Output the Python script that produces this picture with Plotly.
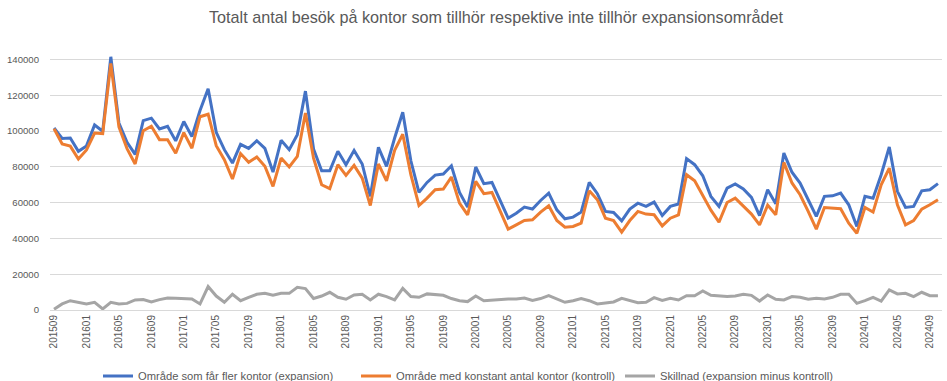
import plotly.graph_objects as go

months = [f"{y}{m:02d}" for y in range(2015, 2025) for m in range(1, 13)]
months = [m for m in months if "201509" <= m <= "202410"]

expansion = [101700, 95900, 96100, 88700, 91700, 103400, 99900, 141500, 104500, 93700,
             87000, 105800, 107200, 101200, 102700, 94500, 105300, 96900, 111500, 123600,
             99300, 89600, 82100, 92600, 90300, 94600, 90300, 77100, 94800, 89600,
             98000, 122300, 90000, 77800, 77800, 88700, 81200, 89200, 81600, 63500,
             90900, 80300, 96100, 110500, 83400, 65700, 71300, 75400, 76000, 80600,
             65700, 57500, 79900, 70600, 71300, 61200, 51300, 54100, 57500, 56400,
             61200, 65300, 56000, 51000, 51900, 54700, 71300, 65000, 55100, 54500,
             49800, 56400, 59700, 57900, 60300, 52800, 57900, 59200, 84600, 81200,
             75000, 63500, 57900, 68100, 70400, 67600, 62900, 52800, 67200, 59400,
             87700, 77000, 70900, 61600, 52300, 63500, 63800, 65300, 58800, 46700,
             63500, 62500, 75600, 91100, 66300, 57300, 57900, 66600, 67200, 70600]

kontroll = [101300, 92800, 91600, 84400, 89400, 98900, 98600, 137800, 102300, 90200,
            81600, 100200, 102700, 95200, 95200, 87600, 99100, 90400, 108000, 109400,
            91800, 84000, 73200, 87400, 82500, 85500, 80300, 69100, 84900, 79900,
            85900, 110100, 84900, 70000, 67800, 81200, 75200, 80800, 73700, 58400,
            81600, 72200, 89200, 98200, 75600, 58400, 62500, 67200, 67600, 74300,
            59700, 53200, 71900, 65000, 65700, 55600, 45200, 47600, 50000, 50400,
            54700, 58200, 50000, 46300, 46700, 48500, 66600, 61600, 51300, 50000,
            43500, 50000, 55100, 53600, 53200, 47000, 51300, 53200, 75600, 72200,
            64400, 55800, 49100, 60100, 62500, 57900, 53600, 47600, 58600, 53200,
            82500, 71000, 64400, 55100, 45200, 57300, 56800, 56600, 48500, 42900,
            57300, 54700, 70000, 79300, 58800, 47600, 50000, 56400, 58800, 61600]

skillnad = [400, 3400, 5200, 4500, 3400, 4300, 600, 4300, 3400, 3700,
            5600, 5800, 4500, 5800, 6700, 6500, 6200, 6200, 3400, 13100,
            7800, 4300, 8800, 5200, 7100, 8800, 9300, 8200, 9300, 9300,
            12700, 12000, 6400, 7800, 9900, 7100, 6000, 8400, 8800, 5600,
            8800, 7500, 5600, 12100, 7500, 7100, 9000, 8400, 8200, 6400,
            5200, 4700, 7800, 5200, 5600, 6200, 6200, 6200, 6700, 5400,
            6400, 8000, 6000, 4300, 5200, 6400, 5200, 3400, 3900, 4500,
            6500, 5200, 4100, 4300, 6900, 5400, 6500, 5600, 8000, 8000,
            10600, 8200, 8000, 7500, 7800, 8800, 8200, 5000, 8400, 6000,
            5600, 7500, 7100, 6000, 6500, 6200, 7100, 8800, 8800, 3700,
            5200, 7100, 5000, 11200, 9000, 9300, 7500, 9900, 8000, 8000]

names = ["Område som får fler kontor (expansion)",
         "Område med konstant antal kontor (kontroll)",
         "Skillnad (expansion minus kontroll)"]
colors = ["#4472C4", "#ED7D31", "#A5A5A5"]
tick_labels = months[::4]
title = "Totalt antal besök på kontor som tillhör respektive inte tillhör expansionsområdet"

FONT = "Liberation Sans"
TXT = "#595959"

fig = go.Figure()
legends = ["legend2", "legend3", "legend4"]
for series, name, color, lg in zip([expansion, kontroll, skillnad], names, colors, legends):
    fig.add_trace(go.Scatter(x=months, y=series, mode="lines", name=name,
                             line=dict(color=color, width=3), legend=lg))

W, H = 947, 381
left, right, top, bottom = 50, 5, 55, 71
pw = W - left - right
ph = H - top - bottom

def lx(px):
    return (px - left) / pw

ly = (H - bottom - 376) / ph
leg_common = dict(orientation="h", yanchor="middle", xanchor="left",
                  font=dict(family=FONT, size=11.2, color=TXT),
                  bgcolor="rgba(0,0,0,0)", itemwidth=30, tracegroupgap=0)

fig.update_layout(
    width=W, height=H,
    margin=dict(l=left, r=right, t=top, b=bottom, autoexpand=False),
    paper_bgcolor="white", plot_bgcolor="white",
    title=dict(text=title, x=0.5, xref="paper", xanchor="center", y=1 - 17 / H, yanchor="middle",
               font=dict(family=FONT, size=16.2, color=TXT)),
    font=dict(family=FONT, color=TXT),
    showlegend=True,
    legend2=dict(x=lx(98), y=ly, **leg_common),
    legend3=dict(x=lx(356), y=ly, **leg_common),
    legend4=dict(x=lx(620), y=ly, **leg_common),
    xaxis=dict(type="category", categoryorder="array", categoryarray=months,
               range=[-0.5, len(months) - 0.5], automargin=False,
               tickmode="array", tickvals=tick_labels, ticktext=tick_labels,
               tickangle=-90, tickfont=dict(family=FONT, size=10, color=TXT),
               showgrid=False, showline=True, linecolor="#D9D9D9", linewidth=1,
               ticks="", ticklen=0, zeroline=False, fixedrange=True),
    yaxis=dict(range=[0, 142500], tickmode="array", automargin=False,
               tickvals=[0, 20000, 40000, 60000, 80000, 100000, 120000, 140000],
               ticktext=["0", "20000", "40000", "60000", "80000", "100000", "120000", "140000"],
               tickfont=dict(family=FONT, size=9.6, color=TXT),
               showgrid=True, gridcolor="#D9D9D9", gridwidth=1,
               zeroline=True, zerolinecolor="#D9D9D9", zerolinewidth=1,
               showline=False, ticks="", ticklabelstandoff=10, fixedrange=True),
)

fig.write_html("out.html", config={"displayModeBar": False},
               post_script="document.body.style.margin='0';document.body.style.overflow='hidden';")
